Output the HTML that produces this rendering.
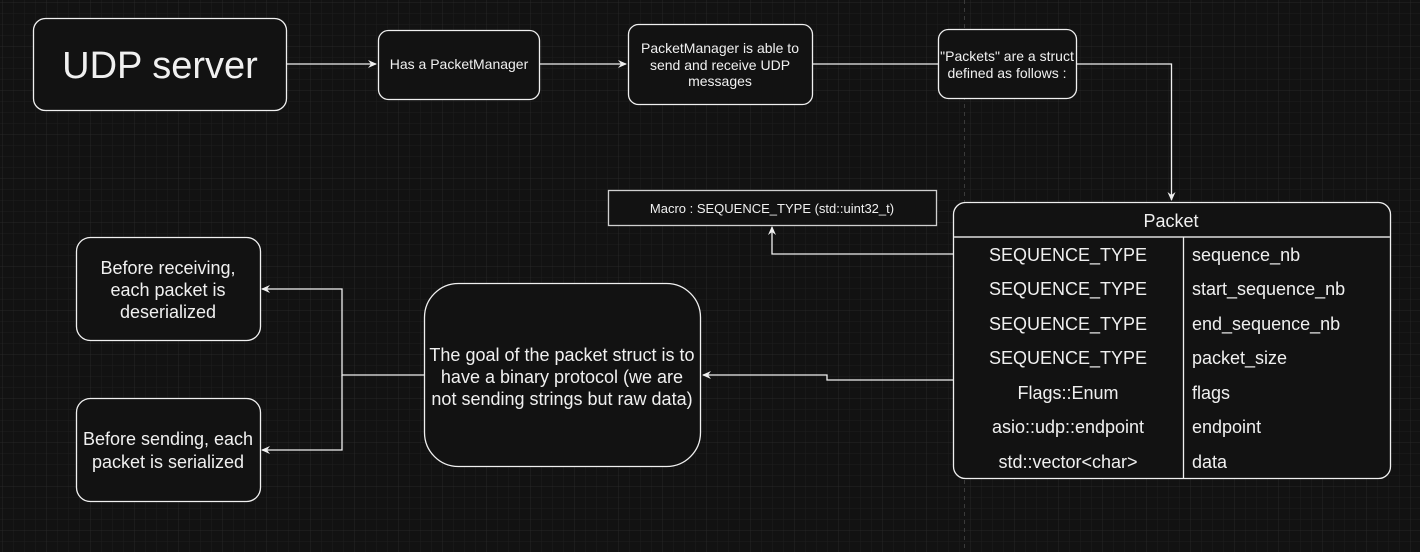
<!DOCTYPE html>
<html><head><meta charset="utf-8"><style>
html,body{margin:0;padding:0;background:#121212;}
svg{display:block;font-family:"Liberation Sans",Arial,sans-serif;}
</style></head><body>
<svg width="1420" height="552" viewBox="0 0 1420 552" xmlns="http://www.w3.org/2000/svg">
<defs>
<pattern id="g" width="11" height="11" patternUnits="userSpaceOnUse" x="2" y="2">
<path d="M11 0H0V11" fill="none" stroke="#1e1e1e" stroke-width="1"/>
</pattern>
<pattern id="G" width="44" height="44" patternUnits="userSpaceOnUse" x="2" y="2">
<path d="M44 0H0V44" fill="none" stroke="#272727" stroke-width="1"/>
</pattern>
<marker id="a" markerWidth="10" markerHeight="10" refX="8" refY="5" orient="auto" markerUnits="userSpaceOnUse">
<path d="M0,1 L9,5 L0,9 L3,5z" fill="#f0f0f0"/>
</marker>
</defs>
<rect width="1420" height="552" fill="#121212"/>
<rect width="1420" height="552" fill="url(#g)"/>
<rect width="1420" height="552" fill="url(#G)"/>
<line x1="964.5" y1="0" x2="964.5" y2="552" stroke="#3a3a3a" stroke-dasharray="4 4"/>

<g fill="#121212" stroke="#f0f0f0" stroke-width="1.3">
<rect x="33.5" y="18.5" width="253" height="92" rx="12"/>
<rect x="378.5" y="30.5" width="161" height="69" rx="10"/>
<rect x="628.5" y="24.5" width="184" height="80" rx="10"/>
<rect x="938.5" y="29.5" width="138" height="69" rx="10"/>
<rect x="608.5" y="190.5" width="328" height="35" stroke="#cfcfcf"/>
<rect x="76.5" y="237.5" width="184" height="103" rx="14"/>
<rect x="76.5" y="398.5" width="184" height="103" rx="14"/>
<rect x="424.5" y="283.5" width="276" height="183" rx="34"/>
<rect x="953.5" y="202.5" width="437" height="276" rx="12"/>
</g>
<line x1="954" y1="237" x2="1390" y2="237" stroke="#aaa" stroke-width="2"/>
<line x1="1183.5" y1="237" x2="1183.5" y2="478" stroke="#f0f0f0" stroke-width="1.3"/>

<g fill="none" stroke="#f0f0f0" stroke-width="1.3">
<path d="M286 64H376" marker-end="url(#a)"/>
<path d="M540 64H626" marker-end="url(#a)"/>
<path d="M812 64H938"/>
<path d="M1076 64H1171.5V200" marker-end="url(#a)"/>
<path d="M953 254H772V227" marker-end="url(#a)"/>
<path d="M953 380H827V375H703" marker-end="url(#a)"/>
<path d="M424 375H342V289H262" marker-end="url(#a)"/>
<path d="M342 375V450H262" marker-end="url(#a)"/>
</g>

<g fill="#f0f0f0" text-anchor="middle">
<text x="160" y="78" font-size="38">UDP server</text>
<text x="459" y="69" font-size="14">Has a PacketManager</text>
<text x="720" y="53" font-size="14">PacketManager is able to</text>
<text x="720" y="70" font-size="14">send and receive UDP</text>
<text x="720" y="86" font-size="14">messages</text>
<text x="1007" y="61" font-size="14">"Packets" are a struct</text>
<text x="1007" y="78" font-size="14">defined as follows :</text>
<text x="772" y="213" font-size="13">Macro : SEQUENCE_TYPE (std::uint32_t)</text>
<text x="168" y="274" font-size="18">Before receiving,</text>
<text x="168" y="296" font-size="18">each packet is</text>
<text x="168" y="318" font-size="18">deserialized</text>
<text x="168" y="445" font-size="18">Before sending, each</text>
<text x="168" y="468" font-size="18">packet is serialized</text>
<text x="562" y="361" font-size="18">The goal of the packet struct is to</text>
<text x="562" y="383" font-size="18">have a binary protocol (we are</text>
<text x="562" y="405" font-size="18">not sending strings but raw data)</text>
<text x="1171" y="227" font-size="18">Packet</text>
<g font-size="18">
<text x="1068" y="261">SEQUENCE_TYPE</text>
<text x="1068" y="295">SEQUENCE_TYPE</text>
<text x="1068" y="330">SEQUENCE_TYPE</text>
<text x="1068" y="364">SEQUENCE_TYPE</text>
<text x="1068" y="399">Flags::Enum</text>
<text x="1068" y="433">asio::udp::endpoint</text>
<text x="1068" y="468">std::vector&lt;char&gt;</text>
</g>
</g>
<g fill="#f0f0f0" font-size="18">
<text x="1192" y="261">sequence_nb</text>
<text x="1192" y="295">start_sequence_nb</text>
<text x="1192" y="330">end_sequence_nb</text>
<text x="1192" y="364">packet_size</text>
<text x="1192" y="399">flags</text>
<text x="1192" y="433">endpoint</text>
<text x="1192" y="468">data</text>
</g>
</svg>
</body></html>
